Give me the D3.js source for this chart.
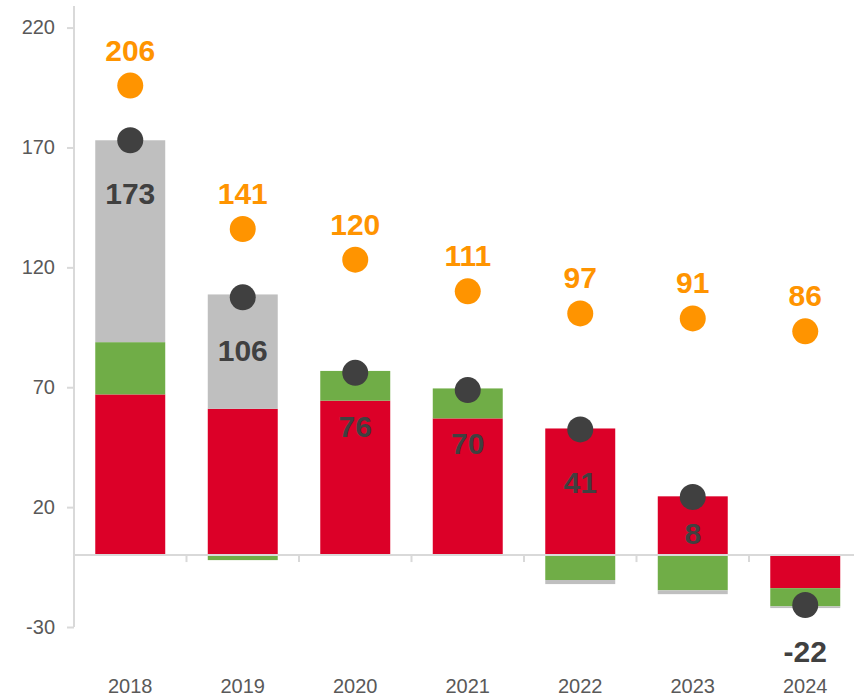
<!DOCTYPE html>
<html>
<head>
<meta charset="utf-8">
<script src="https://cdn.jsdelivr.net/npm/d3@7"></script>
<style>
  body { margin: 0; background: #fff; }
  svg { display: block; font-family: "Liberation Sans", Arial, sans-serif; }
  .tick-label { fill: #595959; font-size: 20px; }
  .val { font-size: 30px; font-weight: bold; }
</style>
</head>
<body>
<div id="chart"></div>
<script>
// values
let years = ["2018", "2019", "2020", "2021", "2022", "2023", "2024"];
let red = [67.0, 61.0, 64.4, 57.0, 52.8, 24.5, -13.8];
let green = [21.8, -2.1, 12.4, 12.5, -10.4, -14.7, -7.6];
let gray = [84.2, 47.7, 0, 0, -1.7, -1.6, -0.7];
let darkDots = [173, 107.5, 76, 68.8, 52.4, 24.2, -20.8];
let netLabels = [173, 106, 76, 70, 41, 8, -22];
let orangeDots = [195.8, 136, 123.2, 110, 100.8, 98.7, 93.3];
let orangeLabels = [206, 141, 120, 111, 97, 91, 86];
let yTicks = [-30, 20, 70, 120, 170, 220];

let width = 854;
let height = 697;
let left = 74;

let svg = d3.select("#chart")
    .append("svg")
    .attr("width", width)
    .attr("height", height);

let x = d3.scaleBand()
    .domain(years)
    .range([left, left + 7 * 112.5])
    .paddingInner(0.378)
    .paddingOuter(0.189);

let y = d3.scaleLinear()
    .domain([-30, 229])
    .range([627, 6]);

let rows = years.map((yr, i) => ({year: yr, red: red[i], green: green[i], gray: gray[i]}));
let stack = d3.stack()
    .keys(["red", "green", "gray"])
    .offset(d3.stackOffsetDiverging);
let layers = stack(rows);
let colors = {red: "#dc0028", green: "#70ad47", gray: "#bfbfbf"};

// y axis
let yAxis = d3.axisLeft(y)
    .tickValues(yTicks)
    .tickFormat(d => String(d))
    .tickSize(7)
    .tickPadding(12);
let gy = svg.append("g")
    .attr("transform", "translate(" + left + ",0)")
    .call(yAxis);
gy.select(".domain").attr("stroke", "#d9d9d9").attr("stroke-width", 2)
    .attr("d", "M0," + y(229) + "V" + y(-30));
gy.selectAll(".tick line").attr("stroke", "#d9d9d9").attr("stroke-width", 2);
gy.selectAll(".tick text").attr("class", "tick-label").attr("font-size", null).attr("font-family", null);

// bars
svg.selectAll("g.layer")
    .data(layers)
    .enter()
    .append("g")
    .attr("class", "layer")
    .attr("fill", d => colors[d.key])
    .selectAll("rect")
    .data(d => d)
    .enter()
    .append("rect")
    .attr("x", d => x(d.data.year))
    .attr("width", x.bandwidth())
    .attr("y", d => y(Math.max(d[0], d[1])))
    .attr("height", d => Math.abs(y(d[0]) - y(d[1])));

// zero line with ticks between categories
let zeroY = y(0);
svg.append("line")
    .attr("x1", left).attr("x2", width)
    .attr("y1", zeroY).attr("y2", zeroY)
    .attr("stroke", "#d9d9d9").attr("stroke-width", 2);
svg.selectAll("line.xtick")
    .data(years.slice(1))
    .enter()
    .append("line")
    .attr("class", "xtick")
    .attr("x1", d => x(d) - x.step() * x.paddingInner() / 2)
    .attr("x2", d => x(d) - x.step() * x.paddingInner() / 2)
    .attr("y1", zeroY).attr("y2", zeroY + 7)
    .attr("stroke", "#d9d9d9").attr("stroke-width", 2);

svg.selectAll("text.xlab")
    .data(years)
    .enter()
    .append("text")
    .attr("class", "tick-label xlab")
    .attr("text-anchor", "middle")
    .attr("x", d => x(d) + x.bandwidth() / 2)
    .attr("y", 693)
    .text(d => d);

// dots
svg.selectAll("circle.dark")
    .data(darkDots)
    .enter()
    .append("circle")
    .attr("class", "dark")
    .attr("cx", (d, i) => x(years[i]) + x.bandwidth() / 2)
    .attr("cy", d => y(d))
    .attr("r", 13)
    .attr("fill", "#404040");

svg.selectAll("circle.orange")
    .data(orangeDots)
    .enter()
    .append("circle")
    .attr("class", "orange")
    .attr("cx", (d, i) => x(years[i]) + x.bandwidth() / 2)
    .attr("cy", d => y(d))
    .attr("r", 13)
    .attr("fill", "#ff9400");

// value labels
svg.selectAll("text.net")
    .data(netLabels)
    .enter()
    .append("text")
    .attr("class", "val net")
    .attr("fill", "#404040")
    .attr("text-anchor", "middle")
    .attr("x", (d, i) => x(years[i]) + x.bandwidth() / 2)
    .attr("y", (d, i) => {
        let dy = y(darkDots[i]);
        let off = dy < zeroY ? Math.min(53, 0.62 * (zeroY - dy)) : 46;
        return dy + off + 11;
    })
    .text(d => d);

svg.selectAll("text.orange-lab")
    .data(orangeLabels)
    .enter()
    .append("text")
    .attr("class", "val orange-lab")
    .attr("fill", "#ff9400")
    .attr("text-anchor", "middle")
    .attr("x", (d, i) => x(years[i]) + x.bandwidth() / 2)
    .attr("y", (d, i) => y(orangeDots[i]) - 25)
    .text(d => d);
</script>
</body>
</html>
